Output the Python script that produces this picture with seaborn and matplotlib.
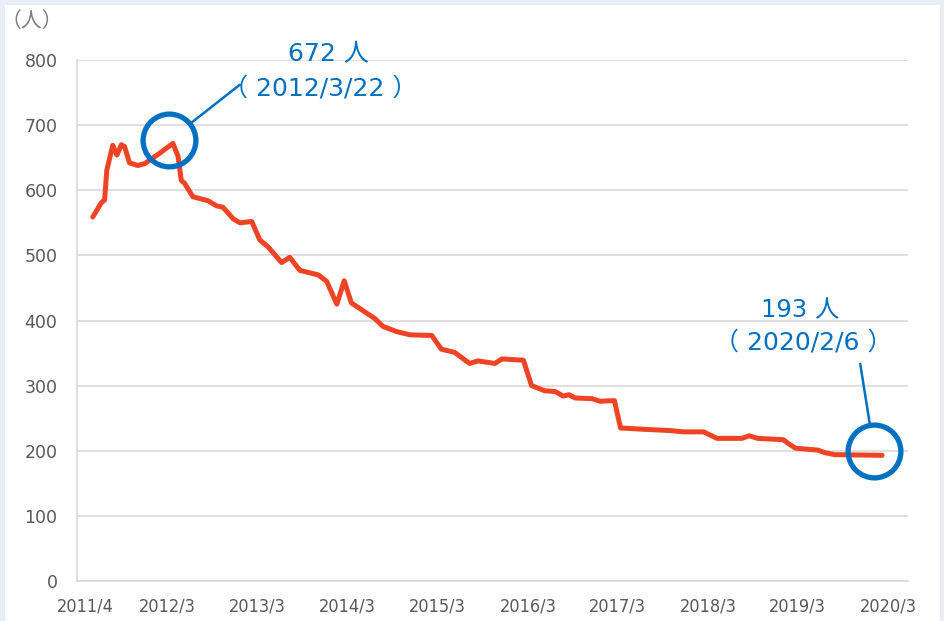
import pandas as pd
import matplotlib.pyplot as plt
import matplotlib.dates as mdates
from matplotlib.patches import Rectangle
from matplotlib.transforms import offset_copy
import seaborn as sns

# Data (date, number of people)
dates = [
    '2011-05-02', '2011-06-06', '2011-06-19', '2011-06-28', '2011-07-22', '2011-08-08',
    '2011-08-26', '2011-09-08', '2011-09-28', '2011-11-01', '2011-11-29', '2012-01-29',
    '2012-03-22', '2012-04-12', '2012-04-25', '2012-05-08', '2012-06-11', '2012-08-11',
    '2012-09-15', '2012-10-11', '2012-11-22', '2012-12-19', '2013-02-05', '2013-03-09',
    '2013-04-12', '2013-06-06', '2013-07-09', '2013-08-19', '2013-11-02', '2013-12-06',
    '2014-01-16', '2014-02-15', '2014-03-16', '2014-06-19', '2014-07-22', '2014-09-15',
    '2014-11-09', '2015-02-05', '2015-03-16', '2015-05-09', '2015-07-09', '2015-08-12',
    '2015-10-19', '2015-11-17', '2016-02-12', '2016-03-16', '2016-05-09', '2016-06-19',
    '2016-07-22', '2016-08-15', '2016-09-09', '2016-11-16', '2016-12-19', '2017-02-15',
    '2017-03-12', '2017-06-12', '2017-08-06', '2017-09-29', '2017-11-22', '2018-02-12',
    '2018-04-07', '2018-07-17', '2018-08-16', '2018-09-19', '2019-01-01', '2019-01-22',
    '2019-02-19', '2019-04-19', '2019-05-22', '2019-06-19', '2019-07-29', '2020-02-06',
]
people = [
    559, 581, 585, 631, 669, 654,
    670, 667, 642, 638, 641, 657,
    672, 652, 615, 611, 590, 584,
    576, 574, 556, 550, 552, 524,
    513, 489, 497, 477, 470, 460,
    425, 461, 427, 403, 391, 383,
    378, 377, 356, 351, 334, 338,
    334, 341, 339, 300, 292, 291,
    284, 286, 281, 280, 276, 277,
    235, 233, 232, 231, 229, 229,
    219, 219, 223, 219, 217, 211,
    204, 202, 201, 197, 194, 193,
]
tick_dates = ['2011-04-01', '2012-03-01', '2013-03-01', '2014-03-01', '2015-03-01',
              '2016-03-01', '2017-03-01', '2018-03-01', '2019-03-01', '2020-03-01']
tick_labels = ['2011/4', '2012/3', '2013/3', '2014/3', '2015/3',
               '2016/3', '2017/3', '2018/3', '2019/3', '2020/3']

df = pd.DataFrame({'date': pd.to_datetime(dates), 'people': people})

sns.set_style('white')
plt.rcParams['font.family'] = ['DejaVu Sans', 'Noto Sans CJK JP']

red = '#EF4326'
blue = '#0070C0'
grid = '#D9D9D9'

fig = plt.figure(figsize=(9.44, 6.21), dpi=100)
fig.patch.set_facecolor('#E9EEF6')
# white panel inside the light border
fig.patches.append(Rectangle((5 / 944, 0), 935 / 944, 616 / 621, transform=fig.transFigure,
                             facecolor='white', edgecolor='none', zorder=-10))

ax = fig.add_axes([77 / 944, 40 / 621, 831 / 944, 521 / 621])
ax.set_facecolor('none')

sns.lineplot(data=df, x='date', y='people', color=red, linewidth=3.6, ax=ax, zorder=3)

ax.set_ylim(0, 800)
ax.set_yticks(range(0, 801, 100))
ax.set_xlim(pd.Timestamp('2011-02-27'), pd.Timestamp('2020-05-21'))
ax.set_xticks(pd.to_datetime(tick_dates))
ax.set_xticklabels(tick_labels, fontsize=13, fontstretch='condensed')
ax.set_xlabel('')
ax.set_ylabel('')

ax.yaxis.grid(True, color=grid, linewidth=1.2)
ax.set_axisbelow(True)
for s in ['top', 'right']:
    ax.spines[s].set_visible(False)
ax.spines['left'].set_color(grid)
ax.spines['bottom'].set_color(grid)
ax.spines['left'].set_linewidth(1.2)
ax.spines['bottom'].set_linewidth(1.2)
ax.tick_params(axis='x', direction='inout', length=12, width=1.0, color=grid,
               labelcolor='#595959', pad=6)
ax.tick_params(axis='y', length=0, labelcolor='#595959', labelsize=12.5, pad=14)

# annotation circles, slightly offset from the highlighted points
peak_x, peak_y = mdates.date2num(pd.Timestamp(dates[12])), people[12]
last_x, last_y = mdates.date2num(pd.Timestamp(dates[-1])), people[-1]
peak_tr = offset_copy(ax.transData, fig=fig, x=-4, y=3, units='dots')
last_tr = offset_copy(ax.transData, fig=fig, x=-8, y=4, units='dots')
ax.plot([peak_x], [peak_y], marker='o', markersize=38, markerfacecolor='none',
        markeredgecolor=blue, markeredgewidth=3.8, zorder=4, clip_on=False, transform=peak_tr)
ax.plot([last_x], [last_y], marker='o', markersize=38, markerfacecolor='none',
        markeredgecolor=blue, markeredgewidth=3.8, zorder=4, clip_on=False, transform=last_tr)

# connector lines from circle edge towards the labels
arrow = dict(arrowstyle='-', color=blue, linewidth=1.8, shrinkA=0, shrinkB=20.5)
ax.annotate('', xy=(peak_x, peak_y), xycoords=peak_tr, xytext=(51, 40),
            textcoords='offset points', arrowprops=arrow)
ax.annotate('', xy=(last_x, last_y), xycoords=last_tr, xytext=(-10, 63),
            textcoords='offset points', arrowprops=arrow)

fig.text(328 / 944, 1 - 54 / 621, '672 人', color=blue, fontsize=18, ha='center', va='center')
fig.text(320 / 944, 1 - 88 / 621, '（ 2012/3/22 ）', color=blue, fontsize=18, ha='center', va='center')
fig.text(800 / 944, 1 - 310 / 621, '193 人', color=blue, fontsize=17.5, ha='center', va='center')
fig.text(803 / 944, 1 - 342 / 621, '（ 2020/2/6 ）', color=blue, fontsize=18, ha='center', va='center')

fig.text(32 / 944, 1 - 21 / 621, '（人）', color='#7F7F7F', fontsize=15, ha='center', va='center')

fig.savefig('out.png', dpi=100, facecolor=fig.get_facecolor())
